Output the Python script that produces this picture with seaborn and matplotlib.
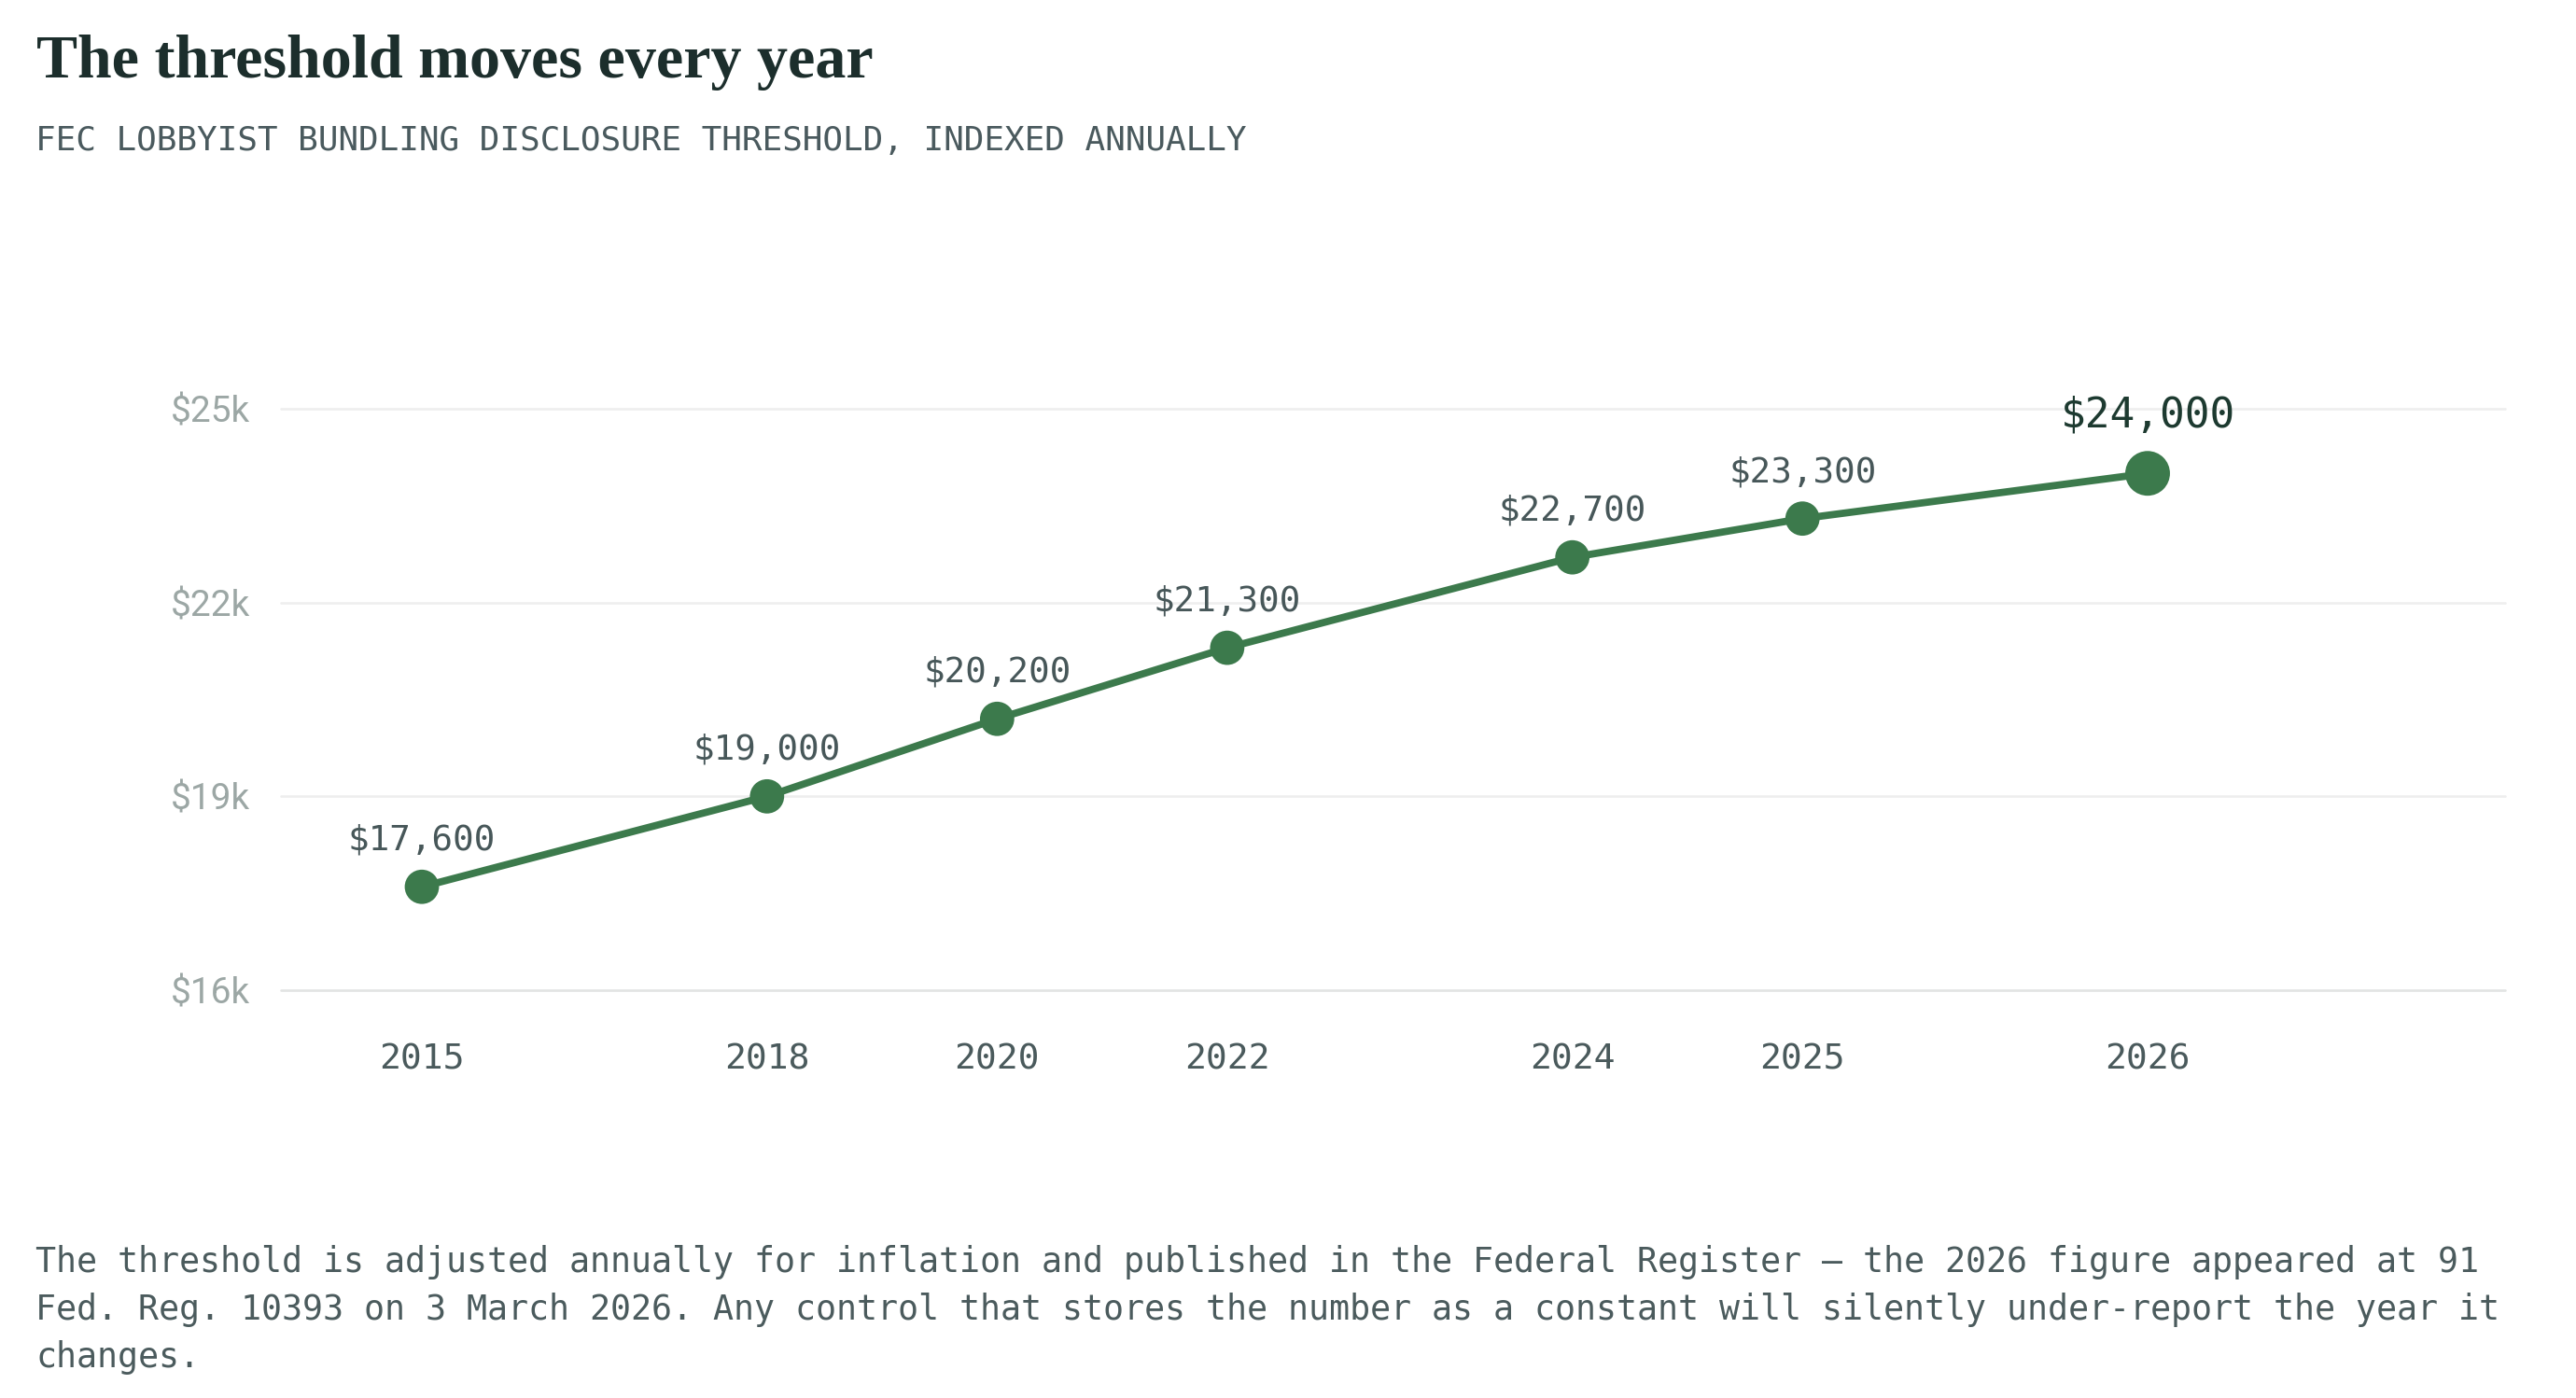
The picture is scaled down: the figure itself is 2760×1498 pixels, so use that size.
import matplotlib
matplotlib.use("Agg")
import matplotlib.pyplot as plt
import seaborn as sns
import pandas as pd

# ---------------- data ----------------
years = ["2015", "2018", "2020", "2022", "2024", "2025", "2026"]
thresholds = [17600, 19000, 20200, 21300, 22700, 23300, 24000]
value_labels = ["$17,600", "$19,000", "$20,200", "$21,300", "$22,700", "$23,300", "$24,000"]
y_ticks = [16000, 19000, 22000, 25000]
y_tick_labels = ["$16k", "$19k", "$22k", "$25k"]

title = "The threshold moves every year"
subtitle = "FEC LOBBYIST BUNDLING DISCLOSURE THRESHOLD, INDEXED ANNUALLY"
notes = [
    "The threshold is adjusted annually for inflation and published in the Federal Register \u2014 the 2026 figure appeared at 91",
    "Fed. Reg. 10393 on 3 March 2026. Any control that stores the number as a constant will silently under-report the year it",
    "changes.",
]

# ---------------- layout (x-scale slots of the category axis) ----------------
X_SLOT = [0, 3, 5, 7, 10, 12, 15]

GREEN = "#3c7a4c"
MONO = ["DejaVu Sans Mono"]

sns.set_theme(style="white")
plt.rcParams["font.family"] = ["DejaVu Sans"]

W, H = 2760, 1498
fig = plt.figure(figsize=(W / 100, H / 100), dpi=100)
fig.patch.set_facecolor("white")

ax_left, ax_right = 301 / W, 2684 / W
y_px_per = 623 / 9000.0
ylo, yhi = 16000, 26500
ax_h = (yhi - ylo) * y_px_per
ax_bottom = (H - 1061) / H
ax = fig.add_axes([ax_left, ax_bottom, ax_right - ax_left, ax_h / H])
ax.set_facecolor("white")

df = pd.DataFrame({
    "slot": X_SLOT,
    "year": years,
    "value": thresholds,
    "latest": ["no"] * (len(years) - 1) + ["yes"],
})

# gridlines
for i, t in enumerate(y_ticks):
    ax.axhline(t, color="#e2e4e3" if i == 0 else "#eeeeee", lw=1.9, zorder=0, clip_on=False)

sns.lineplot(data=df, x="slot", y="value", color=GREEN, lw=5.6, ax=ax, zorder=2,
             legend=False, solid_capstyle="round")
sns.scatterplot(data=df, x="slot", y="value", size="latest", sizes={"no": 700, "yes": 1190},
                color=GREEN, edgecolor="none", linewidth=0, ax=ax, zorder=3, legend=False)

# value labels
for i, row in df.iterrows():
    last = row["latest"] == "yes"
    ax.annotate(value_labels[i], (row["slot"], row["value"]),
                xytext=(0, 36 if last else 28.5), textcoords="offset points",
                ha="center", va="baseline",
                fontsize=32 if last else 27, family=MONO,
                color="#1d3a30" if last else "#475759", zorder=4)

ax.set_xlim(-1.225, 18.107)
ax.set_ylim(ylo, yhi)
ax.set_xticks(X_SLOT)
ax.set_xticklabels(years, family=MONO, fontsize=27.4, color="#4a5a5c")
ax.set_yticks(y_ticks)
ax.set_yticklabels(y_tick_labels, family=["Roboto", "DejaVu Sans"], fontsize=28, color="#9ca7a5")
ax.tick_params(axis="x", length=0, pad=41)
ax.tick_params(axis="y", length=0, pad=24)
ax.set_xlabel("")
ax.set_ylabel("")
for s in ax.spines.values():
    s.set_visible(False)
ax.grid(False)

# title, auto-fitted to the reference width
t = fig.text(39 / W, 1 - 83 / H, title, family=["Liberation Serif", "DejaVu Serif"],
             fontweight="bold", fontsize=45, color="#1c2e2c", va="baseline", ha="left")
fig.canvas.draw()
r = fig.canvas.get_renderer()
bw = t.get_window_extent(r).width
t.set_fontsize(45 * 898 / bw)

fig.text(38 / W, 1 - 161 / H, subtitle, family=MONO, fontsize=25.9, color="#4a5a5e",
         va="baseline", ha="left")

for k, line in enumerate(notes):
    fig.text(38 / W, 1 - (1363 + 51 * k) / H, line, family=MONO, fontsize=26.42,
             color="#4b5b5d", va="baseline", ha="left")

fig.savefig("out.png", dpi=100, facecolor="white")
